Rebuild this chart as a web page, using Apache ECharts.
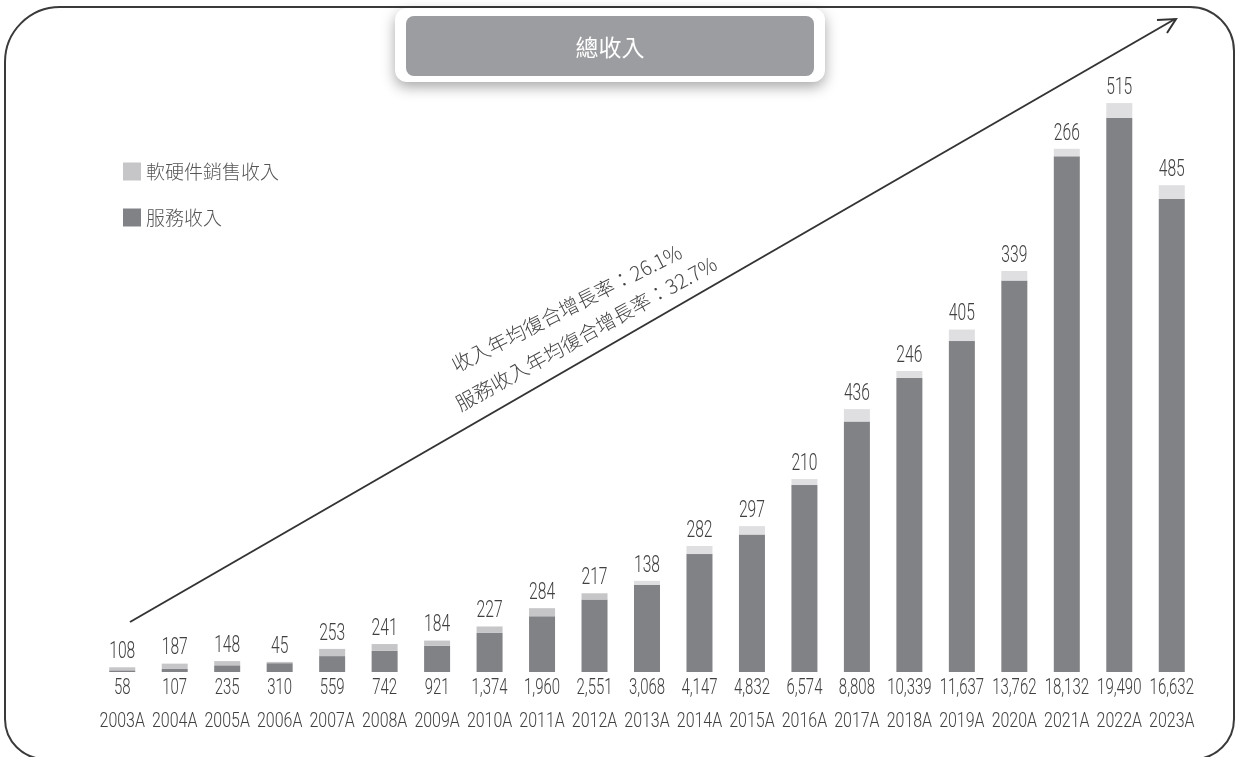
<!DOCTYPE html>
<html>
<head>
<meta charset="utf-8">
<script src="https://cdn.jsdelivr.net/npm/echarts@6/dist/echarts.min.js"></script>
<style>
  html, body { margin: 0; padding: 0; background: #fff; }
  #chart { width: 1238px; height: 757px; }
</style>
</head>
<body>
<div id="chart"></div>
<script>
const years = ['2003A', '2004A', '2005A', '2006A', '2007A', '2008A', '2009A', '2010A', '2011A', '2012A', '2013A',
  '2014A', '2015A', '2016A', '2017A', '2018A', '2019A', '2020A', '2021A', '2022A', '2023A'];
const serviceRevenue = [58, 107, 235, 310, 559, 742, 921, 1374, 1960, 2551, 3068,
  4147, 4832, 6574, 8808, 10339, 11637, 13762, 18132, 19490, 16632];
const hardwareRevenue = [108, 187, 148, 45, 253, 241, 184, 227, 284, 217, 138,
  282, 297, 210, 436, 246, 405, 339, 266, 515, 485];

const numFont = '"Roboto", sans-serif';
const cjkFont = '"Noto Sans CJK TC", "Noto Sans", sans-serif';
const textColor = '#404040';
const darkGray = '#818285';
const lightGray = '#c6c6c8';
const paleGray = '#dfdfe1';

const chart = echarts.init(document.getElementById('chart'));

// frame, title box, growth arrow and its notes
const staticGraphics = [
  {
    type: 'rect',
    silent: true,
    shape: { x: 5, y: 7, width: 1229, height: 752, r: [55, 44, 40, 40] },
    style: { fill: 'none', stroke: '#3a3a3a', lineWidth: 2 },
    z: 0
  },
  {
    type: 'rect',
    shape: { x: 395, y: 8, width: 430, height: 74, r: 12 },
    style: { fill: '#fff', shadowBlur: 14, shadowOffsetY: 5, shadowColor: 'rgba(0,0,0,0.35)' },
    z: 10
  },
  {
    type: 'rect',
    shape: { x: 406, y: 16, width: 408, height: 60, r: 8 },
    style: { fill: '#9c9da0' },
    z: 11
  },
  {
    type: 'text',
    x: 610,
    y: 47,
    style: {
      text: '總收入',
      fill: '#fff',
      font: 'normal 23px ' + cjkFont,
      align: 'center',
      verticalAlign: 'middle'
    },
    z: 12
  },
  {
    type: 'line',
    shape: { x1: 130, y1: 622, x2: 1175, y2: 19 },
    style: { stroke: '#333', lineWidth: 2 },
    z: 5
  },
  {
    type: 'polyline',
    shape: { points: [[1157, 20], [1176, 19], [1167, 33]] },
    style: { stroke: '#333', lineWidth: 2, fill: 'none' },
    z: 5
  },
  {
    type: 'text',
    x: 453,
    y: 366,
    rotation: 27 * Math.PI / 180,
    style: {
      text: '收入年均復合增長率：26.1%',
      fill: '#444',
      font: '300 20px ' + cjkFont,
      align: 'left',
      verticalAlign: 'middle'
    },
    z: 6
  },
  {
    type: 'text',
    x: 457,
    y: 405,
    rotation: 29 * Math.PI / 180,
    style: {
      text: '服務收入年均復合增長率：32.7%',
      fill: '#444',
      font: '300 20px ' + cjkFont,
      align: 'left',
      verticalAlign: 'middle'
    },
    z: 6
  }
];

const option = {
  animation: false,
  grid: { left: 96, right: 40, top: 89, bottom: 85 },
  legend: {
    orient: 'vertical',
    left: 118,
    top: 157,
    itemWidth: 18,
    itemHeight: 18,
    itemGap: 27,
    textStyle: { fontFamily: cjkFont, fontSize: 19, color: '#555', fontWeight: 300 },
    data: [
      { name: '軟硬件銷售收入', icon: 'rect', itemStyle: { color: lightGray } },
      { name: '服務收入', icon: 'rect', itemStyle: { color: darkGray } }
    ]
  },
  xAxis: {
    type: 'category',
    data: years,
    axisLine: { show: false },
    axisTick: { show: false },
    axisLabel: { show: false }
  },
  yAxis: {
    type: 'value',
    min: 0,
    max: 20500,
    show: false,
    splitLine: { show: false }
  },
  series: [
    {
      name: '服務收入',
      type: 'bar',
      stack: 'total',
      barWidth: 26,
      itemStyle: { color: darkGray },
      data: serviceRevenue
    },
    {
      name: '軟硬件銷售收入',
      type: 'bar',
      stack: 'total',
      barWidth: 26,
      itemStyle: {
        color: (p) => (p.dataIndex >= 10 ? paleGray : lightGray)
      },
      data: hardwareRevenue
    }
  ],
  graphic: staticGraphics
};

chart.setOption(option);

// condensed number labels, placed from the chart's own scales
function numText(text, x, y, size, sx) {
  return {
    type: 'text',
    x: x,
    y: y,
    scaleX: sx,
    silent: true,
    style: {
      text: text,
      fill: textColor,
      font: '300 ' + size + 'px ' + numFont,
      align: 'center',
      verticalAlign: 'middle'
    },
    z: 8
  };
}

const labelGraphics = [];
years.forEach((year, i) => {
  const top = chart.convertToPixel({ xAxisIndex: 0, yAxisIndex: 0 }, [i, serviceRevenue[i] + hardwareRevenue[i]]);
  const base = chart.convertToPixel({ xAxisIndex: 0, yAxisIndex: 0 }, [i, 0]);
  labelGraphics.push(numText(String(hardwareRevenue[i]), top[0], top[1] - 15, 23, 0.68));
  labelGraphics.push(numText(serviceRevenue[i].toLocaleString('en-US'), base[0], base[1] + 16, 22, 0.68));
  labelGraphics.push(numText(year, base[0], base[1] + 50, 21, 0.76));
});

chart.setOption({ graphic: staticGraphics.concat(labelGraphics) });
</script>
</body>
</html>
